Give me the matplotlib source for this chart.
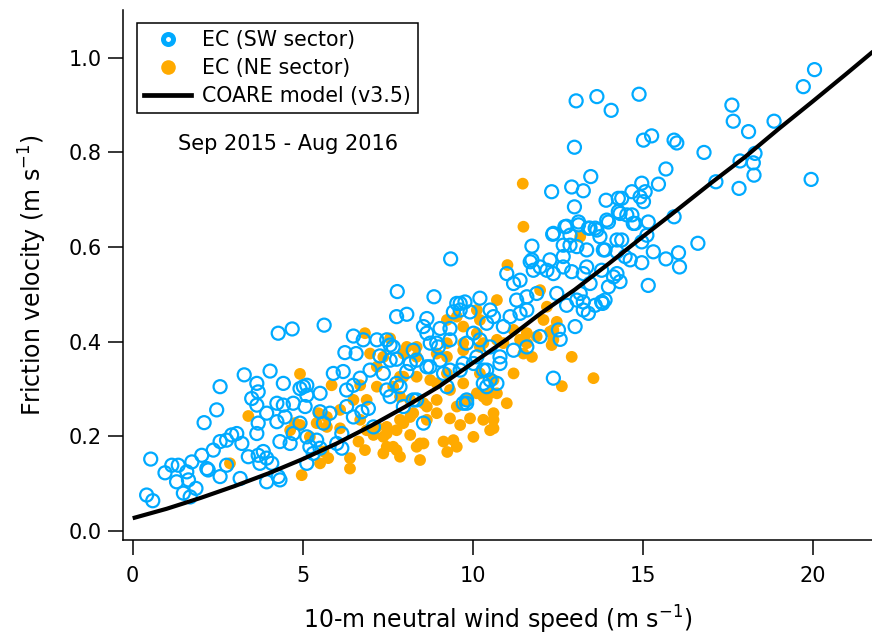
import matplotlib
matplotlib.use("Agg")
import matplotlib.pyplot as plt
from matplotlib.lines import Line2D

plt.rcParams['font.family'] = ['DejaVu Sans']
plt.rcParams['mathtext.fontset'] = 'dejavusans'

# ---- EC (SW sector) : wind speed (m/s), friction velocity (m/s)
sw_x = [0.53, 2.57, 2.47, 2.1, 0.95, 1.15, 1.34, 1.29, 1.59, 1.74, 1.64, 1.86, 1.49, 1.69, 0.41, 0.59,
        2.03, 2.22, 2.37, 2.57, 2.76, 2.91, 3.06, 3.21, 2.57, 2.76, 2.18, 3.16, 3.4, 3.69, 3.84, 3.94,
        3.74, 4.09, 4.28, 4.33, 3.94, 3.65, 3.69, 3.65, 3.5, 3.69, 3.65, 3.94, 4.24, 4.43, 4.24, 4.48,
        4.72, 4.92, 4.43, 5.12, 5.07, 4.92, 4.72, 4.63, 4.33, 5.12, 5.21, 5.31, 5.51, 5.12, 5.41, 5.61,
        5.8, 5.51, 6.0, 6.15, 6.15, 6.29, 6.49, 6.29, 6.49, 6.74, 6.93, 7.08, 5.12, 5.51, 5.02,
        3.28, 4.04, 4.28, 4.69,
        5.63, 7.76, 8.06, 6.49, 6.78, 7.18, 7.57, 6.24, 6.57, 7.27, 7.76, 8.55, 8.65, 8.65, 8.94, 9.33,
        9.43, 9.63, 7.37, 7.47, 7.76, 8.06, 8.35, 8.74, 9.04, 9.33, 9.72, 10.12, 10.31, 10.51, 10.31,
        9.72, 9.82, 8.55, 8.35, 7.96, 7.57, 5.9, 6.19, 6.69, 6.98,
        9.35, 7.78, 8.86, 9.04, 9.53, 9.77, 9.63, 10.21, 9.92, 10.51, 10.61, 10.41, 10.9, 11.1, 11.39,
        11.59, 11.2, 11.39, 11.0, 11.69, 11.78, 11.98, 12.18, 11.88, 11.59, 11.29, 11.98, 11.59, 11.2,
        10.8, 10.51, 10.21, 10.02, 9.82, 9.33, 8.99, 8.75, 8.25, 7.66, 7.47, 7.57, 8.16, 8.65, 9.14,
        9.63, 10.02, 10.41, 10.8, 12.37, 9.82, 8.25, 7.86, 9.24, 10.41, 10.71, 12.57, 11.74, 11.74,
        13.25, 13.82,
        20.05, 19.72, 18.86, 17.62, 17.66, 18.11, 18.3, 17.86, 18.25, 18.27, 17.83, 19.95, 17.15, 16.8,
        15.92, 16.62, 16.05, 16.08, 15.68, 15.31, 15.16, 14.97, 15.68, 15.26, 15.02, 15.92, 16.0, 13.04,
        13.65, 14.07, 14.89, 12.99, 13.47, 12.91, 13.25, 12.32, 12.99, 13.92, 14.68, 14.97, 15.46, 15.07,
        14.92, 15.02, 14.38, 14.53, 14.68, 14.33, 15.16, 14.77, 13.99, 13.6, 14.72, 15.12, 14.38, 14.24,
        14.63, 14.48, 14.97, 13.89, 13.79, 14.24, 14.33, 13.99, 13.45, 13.25, 13.16, 13.06, 13.25, 13.79,
        13.6, 13.4, 12.76, 13.01, 12.52, 13.35, 12.71, 13.11, 13.45, 12.86, 12.66, 12.37, 12.37, 12.91,
        12.47, 13.89, 14.14, 12.76, 12.86, 12.66, 13.06, 13.35, 13.84, 12.35, 12.27, 12.66, 14.24, 14.28,
        14.28, 13.94, 13.11, 13.4, 13.65, 13.74]
sw_y = [0.152, 0.305, 0.256, 0.229, 0.123, 0.139, 0.139, 0.104, 0.125, 0.146, 0.108, 0.09, 0.08, 0.072, 0.076, 0.064,
        0.16, 0.129, 0.171, 0.189, 0.192, 0.203, 0.206, 0.185, 0.115, 0.139, 0.132, 0.111, 0.157, 0.16, 0.168, 0.154,
        0.143, 0.143, 0.115, 0.108, 0.104, 0.206, 0.228, 0.266, 0.28, 0.294, 0.312, 0.249, 0.27, 0.266, 0.231, 0.241,
        0.27, 0.301, 0.312, 0.308, 0.263, 0.228, 0.206, 0.185, 0.189, 0.199, 0.178, 0.164, 0.175, 0.143, 0.192, 0.228,
        0.249, 0.252, 0.185, 0.175, 0.206, 0.298, 0.308, 0.263, 0.241, 0.252, 0.259, 0.22, 0.287, 0.291, 0.305,
        0.33, 0.338, 0.418, 0.427,
        0.435, 0.453, 0.458, 0.412, 0.404, 0.404, 0.393, 0.377, 0.375, 0.37, 0.363, 0.432, 0.449, 0.418, 0.397, 0.428,
        0.463, 0.481, 0.333, 0.298, 0.312, 0.337, 0.361, 0.347, 0.361, 0.34, 0.354, 0.368, 0.34, 0.319, 0.312,
        0.27, 0.277, 0.228, 0.277, 0.263, 0.284, 0.333, 0.337, 0.323, 0.34,
        0.575, 0.506, 0.495, 0.428, 0.481, 0.484, 0.467, 0.492, 0.463, 0.467, 0.453, 0.439, 0.432, 0.453, 0.46,
        0.467, 0.523, 0.53, 0.544, 0.569, 0.551, 0.558, 0.551, 0.502, 0.495, 0.488, 0.411, 0.389, 0.382,
        0.368, 0.389, 0.404, 0.418, 0.397, 0.404, 0.389, 0.397, 0.382, 0.389, 0.404, 0.361, 0.354, 0.347, 0.333,
        0.34, 0.354, 0.34, 0.354, 0.323, 0.27, 0.277, 0.305, 0.305, 0.305, 0.312, 0.405, 0.602, 0.573,
        0.467, 0.481,
        0.975, 0.939, 0.866, 0.9, 0.866, 0.844, 0.798, 0.782, 0.778, 0.752, 0.724, 0.743, 0.738, 0.8,
        0.664, 0.608, 0.588, 0.558, 0.575, 0.59, 0.519, 0.567, 0.765, 0.835, 0.826, 0.826, 0.82, 0.909,
        0.918, 0.889, 0.923, 0.811, 0.749, 0.727, 0.719, 0.717, 0.685, 0.699, 0.717, 0.735, 0.733, 0.717,
        0.706, 0.696, 0.703, 0.668, 0.668, 0.671, 0.653, 0.65, 0.653, 0.64, 0.65, 0.625, 0.615, 0.59,
        0.573, 0.58, 0.611, 0.594, 0.551, 0.544, 0.527, 0.516, 0.523, 0.544, 0.502, 0.488, 0.484, 0.484,
        0.477, 0.46, 0.477, 0.432, 0.425, 0.558, 0.643, 0.647, 0.64, 0.604, 0.558, 0.629, 0.544, 0.548,
        0.502, 0.488, 0.537, 0.644, 0.625, 0.604, 0.601, 0.594, 0.594, 0.627, 0.573, 0.58, 0.615, 0.675,
        0.703, 0.657, 0.653, 0.64, 0.636, 0.622]

# ---- EC (NE sector)
ne_x = [3.4, 2.86, 4.97, 5.51, 5.75, 6.39, 6.39, 6.64, 6.83, 6.1, 5.85, 6.69, 7.08, 4.77, 5.61, 5.46,
        4.92, 6.83, 7.57, 4.92, 4.63, 7.37, 7.47, 7.86, 7.76, 8.16, 8.35, 8.55, 9.14, 9.53, 9.33, 9.63,
        9.92, 10.02, 10.31, 10.61, 10.61, 6.69, 6.88, 7.18, 7.37, 7.47, 7.76, 7.96, 8.16, 8.65, 8.94,
        8.55, 8.16, 7.86, 7.66, 7.18, 6.88, 6.49, 6.1, 5.71, 5.41, 5.21, 5.71, 7.96, 8.35, 8.06, 8.35,
        8.94, 9.24, 9.72, 10.12, 10.31, 8.94, 9.33, 9.72, 10.12, 10.31, 10.51, 6.98, 7.37, 7.18,
        11.49, 11.02, 11.47, 13.16, 9.53, 10.12, 10.71, 11.98, 12.08, 12.37, 11.39, 10.9, 11.49, 11.2,
        11.0, 10.61, 10.51, 9.43, 8.45, 7.66, 7.47, 7.86, 8.25, 8.65, 8.94, 9.53, 9.82, 10.41, 10.71,
        10.61, 10.21, 9.24, 8.75, 7.86, 8.35, 7.96, 9.24, 9.72, 10.21, 10.71, 11.59, 11.88, 12.37, 9.24,
        10.21, 9.72, 11.2, 12.18, 12.91, 13.55, 12.62, 12.32, 11.74, 12.27, 12.47, 11.59, 8.45, 9.25]
ne_y = [0.243, 0.143, 0.118, 0.143, 0.154, 0.132, 0.154, 0.189, 0.171, 0.217, 0.308, 0.308, 0.203, 0.228, 0.168, 0.249,
        0.332, 0.418, 0.407, 0.224, 0.213, 0.164, 0.178, 0.157, 0.171, 0.203, 0.178, 0.185, 0.189, 0.178, 0.238, 0.224,
        0.238, 0.199, 0.235, 0.217, 0.235, 0.235, 0.213, 0.22, 0.199, 0.22, 0.213, 0.228, 0.241, 0.235, 0.249,
        0.27, 0.277, 0.284, 0.305, 0.305, 0.277, 0.277, 0.256, 0.241, 0.228, 0.199, 0.22, 0.326, 0.326, 0.389, 0.389,
        0.375, 0.397, 0.397, 0.418, 0.397, 0.312, 0.298, 0.312, 0.291, 0.284, 0.291, 0.375, 0.368, 0.347,
        0.643, 0.562, 0.734, 0.622, 0.453, 0.467, 0.488, 0.509, 0.446, 0.425, 0.404, 0.397, 0.375, 0.333,
        0.27, 0.249, 0.213, 0.192, 0.185, 0.178, 0.206, 0.235, 0.249, 0.263, 0.277, 0.263, 0.277, 0.277, 0.291,
        0.319, 0.333, 0.333, 0.319, 0.326, 0.368, 0.375, 0.368, 0.382, 0.389, 0.404, 0.397, 0.411, 0.404, 0.446,
        0.446, 0.432, 0.425, 0.474, 0.368, 0.323, 0.306, 0.393, 0.368, 0.421, 0.442, 0.418, 0.15, 0.167]

# ---- COARE model (v3.5) curve
coare_x = [0, 1, 2, 3, 4, 5, 6, 7, 8, 9, 10, 11, 12, 13, 14, 15, 16, 17, 18, 19, 20, 21, 21.8]
coare_y = [0.027, 0.047, 0.070, 0.095, 0.122, 0.152, 0.185, 0.222, 0.262, 0.305, 0.355, 0.405, 0.46,
           0.51, 0.565, 0.622, 0.678, 0.735, 0.79, 0.85, 0.908, 0.967, 1.015]

legend_labels = ['EC (SW sector)', 'EC (NE sector)', 'COARE model (v3.5)']
x_ticks = [0, 5, 10, 15, 20]
y_ticks = [0.0, 0.2, 0.4, 0.6, 0.8, 1.0]

BLUE = '#00AAFF'
ORANGE = '#FFAA00'

fig = plt.figure(figsize=(8.72, 6.36), dpi=100)
ax = fig.add_axes([123 / 872, 96 / 636, 749 / 872, 530 / 636])

ax.scatter(ne_x, ne_y, s=72, c=ORANGE, edgecolors='none', zorder=2)
ax.scatter(sw_x, sw_y, s=88, facecolors='none', edgecolors=BLUE, linewidths=1.6, zorder=3)
ax.plot(coare_x, coare_y, color='black', lw=3, zorder=4, solid_capstyle='butt')

ax.set_xlim(-0.285, 21.74)
ax.set_ylim(-0.019, 1.101)
ax.set_xticks(x_ticks)
ax.set_xticklabels([str(t) for t in x_ticks])
ax.set_yticks(y_ticks)
ax.set_yticklabels([f'{t:.1f}' for t in y_ticks])

for s in ['top', 'right']:
    ax.spines[s].set_visible(False)
for s in ['left', 'bottom']:
    ax.spines[s].set_linewidth(1.1)

ax.tick_params(axis='both', direction='out', length=10.5, width=1.1, labelsize=15)
ax.tick_params(axis='x', pad=8)
ax.tick_params(axis='y', pad=5)

ax.set_xlabel('10-m neutral wind speed (m s$^{-1}$)', fontsize=17, labelpad=13)
ax.set_ylabel('Friction velocity (m s$^{-1}$)', fontsize=17, labelpad=14)

h1 = Line2D([], [], ls='none', marker='o', ms=7.2, mfc='white', mec=BLUE, mew=3.6)
h2 = Line2D([], [], ls='none', marker='o', ms=10.5, mfc=ORANGE, mec='none')
h3 = Line2D([], [], color='black', lw=3.4)
leg = ax.legend([h1, h2, h3], legend_labels, loc='upper left',
                bbox_to_anchor=(14 / 749, 517 / 530), bbox_transform=ax.transAxes,
                frameon=True, fancybox=False, edgecolor='black', fontsize=14.8,
                handlelength=2.3, handletextpad=0.5, borderpad=0.35, labelspacing=0.38,
                borderaxespad=0)
leg.get_frame().set_linewidth(1.1)
leg.get_frame().set_alpha(1)

ax.text(55 / 749, 396 / 530, 'Sep 2015 - Aug 2016', transform=ax.transAxes,
        fontsize=15, ha='left', va='center')

fig.savefig('out.png', dpi=100)
